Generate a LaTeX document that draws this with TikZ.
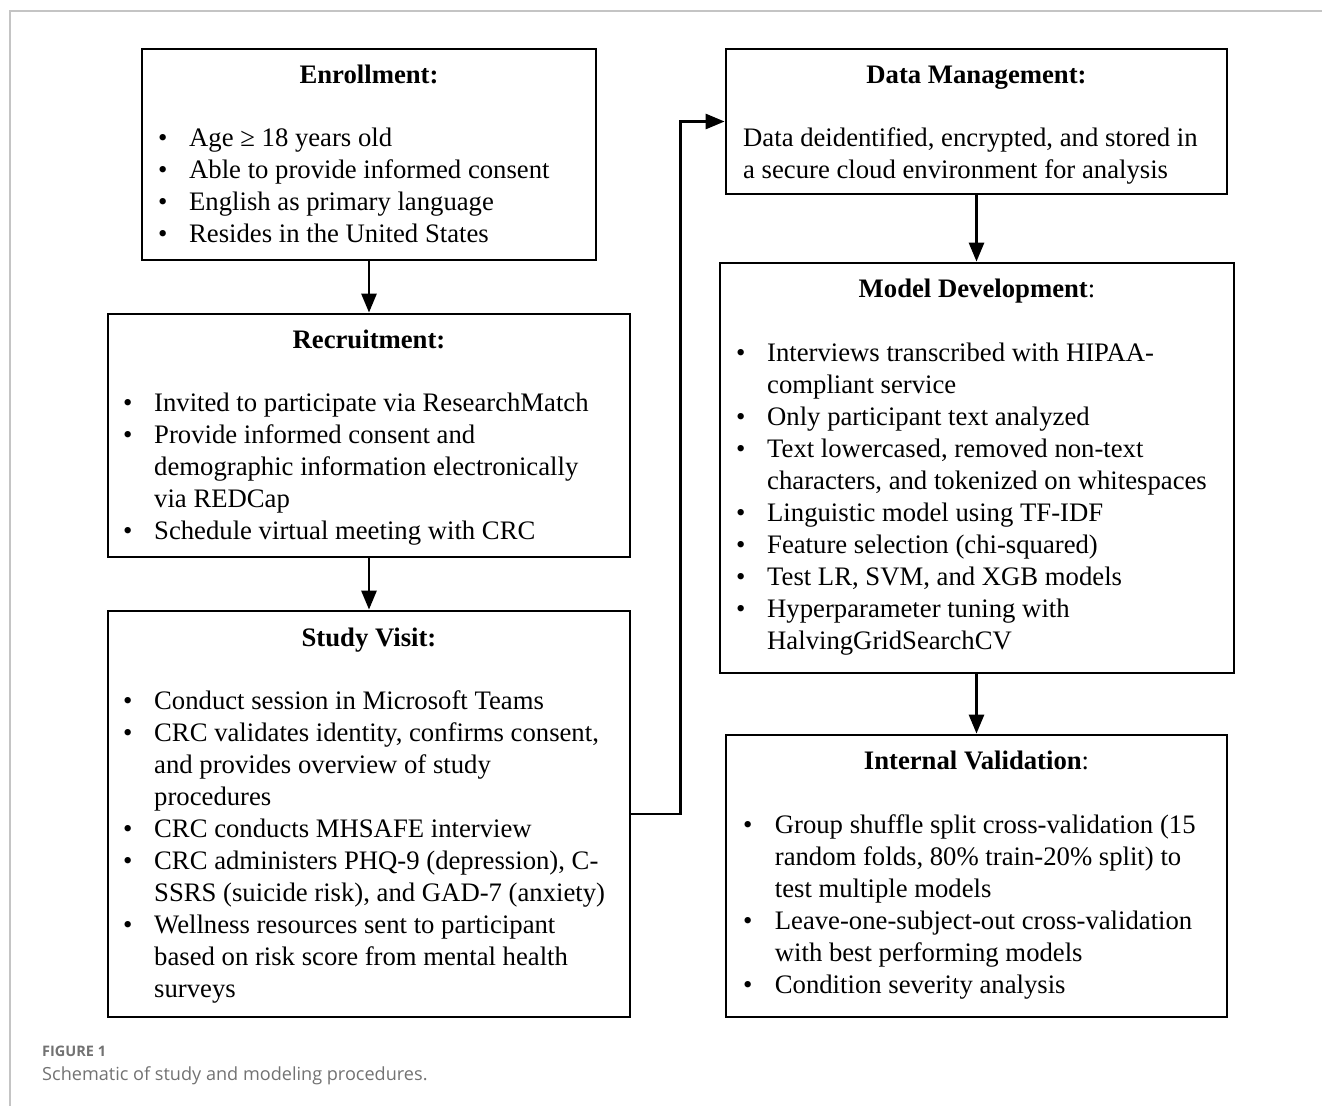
\documentclass[tikz,border=0pt]{standalone}
\usepackage{fontspec}
\setmainfont{Liberation Serif}
\newfontfamily\capfont{Open Sans}
\usetikzlibrary{arrows.meta}
\definecolor{framegray}{HTML}{C4C4C4}
\definecolor{capgray}{HTML}{727272}
\newcommand\bul[1][31pt]{\makebox[#1][l]{\textbullet}}
\newcommand\ind[1][31pt]{\hspace*{#1}}
\begin{document}
\begin{tikzpicture}[x=1pt,y=-1pt,
  boxst/.style={draw, line width=2.8pt, inner sep=0, rectangle},
  ttl/.style={font=\fontsize{26.7}{32.1}\selectfont\bfseries, anchor=base, inner sep=0},
  body/.style={font=\fontsize{26.7}{32.1}\selectfont, anchor=base west, inner sep=0, align=left},
  conn/.style={line width=2.8pt, -{Triangle[length=19pt,width=15pt]}},
  capst/.style={anchor=base west, inner sep=0, text=capgray}]
\useasboundingbox (0,0) rectangle (1322,1106);
\draw[framegray, line width=2pt] (1322,11) -- (10,11) -- (10,1106);

% boxes
\node[boxst, minimum width=454pt, minimum height=211pt] (enr) at (369,154.5) {};
\node[boxst, minimum width=522pt, minimum height=243pt] (rec) at (369,435.5) {};
\node[boxst, minimum width=522pt, minimum height=406pt] (stu) at (369,814) {};
\node[boxst, minimum width=501pt, minimum height=145pt] (dat) at (976.5,121.5) {};
\node[boxst, minimum width=514pt, minimum height=410pt] (mod) at (977,468) {};
\node[boxst, minimum width=501pt, minimum height=282pt] (val) at (976.5,876) {};

% titles
\node[ttl] (enrT) at (369,83) {Enrollment:};
\node[ttl] (recT) at (369,348) {Recruitment:};
\node[ttl] (stuT) at (369,646) {Study Visit:};
\node[ttl] (datT) at (976.5,83) {Data Management:};
\node[ttl] (modT) at (977,297) {Model Development\textmd{:}};
\node[ttl] (valT) at (976.5,769) {Internal Validation\textmd{:}};

% bodies
\node[body] (enrB) at (158,146) {\begin{tabular}[t]{@{}l@{}}
\bul Age ≥ 18 years old\\
\bul Able to provide informed consent\\
\bul English as primary language\\
\bul Resides in the United States
\end{tabular}};
\node[body] (recB) at (123,411) {\begin{tabular}[t]{@{}l@{}}
\bul Invited to participate via ResearchMatch\\
\bul Provide informed consent and\\
\ind demographic information electronically\\
\ind via REDCap\\
\bul Schedule virtual meeting with CRC
\end{tabular}};
\node[body] (stuB) at (123,709) {\begin{tabular}[t]{@{}l@{}}
\bul Conduct session in Microsoft Teams\\
\bul CRC validates identity, confirms consent,\\
\ind and provides overview of study\\
\ind procedures\\
\bul CRC conducts MHSAFE interview\\
\bul CRC administers PHQ-9 (depression), C-\\
\ind SSRS (suicide risk), and GAD-7 (anxiety)\\
\bul Wellness resources sent to participant\\
\ind based on risk score from mental health\\
\ind surveys
\end{tabular}};
\node[body] (datB) at (743,146) {\begin{tabular}[t]{@{}l@{}}
Data deidentified, encrypted, and stored in\\
a secure cloud environment for analysis
\end{tabular}};
\node[body] (modB) at (736,361) {\begin{tabular}[t]{@{}l@{}}
\bul Interviews transcribed with HIPAA-\\
\ind compliant service\\
\bul Only participant text analyzed\\
\bul Text lowercased, removed non-text\\
\ind characters, and tokenized on whitespaces\\
\bul Linguistic model using TF-IDF\\
\bul Feature selection (chi-squared)\\
\bul Test LR, SVM, and XGB models\\
\bul Hyperparameter tuning with\\
\ind HalvingGridSearchCV
\end{tabular}};
\node[body] (valB) at (743,833) {\begin{tabular}[t]{@{}l@{}}
\bul[25pt] Group shuffle split cross-validation (15\\
\ind[25pt] random folds, 80\% train-20\% split) to\\
\ind[25pt] test multiple models\\
\bul[25pt] Leave-one-subject-out cross-validation\\
\ind[25pt] with best performing models\\
\bul[25pt] Condition severity analysis
\end{tabular}};

% connectors
\draw[conn] (enr.south) -- (rec.north);
\draw[conn] (rec.south) -- (stu.north);
\draw[conn] (stu.east) -- ++(49,0) |- (dat.west);
\draw[conn] (dat.south) -- (dat.south |- mod.north);
\draw[conn] (val.north |- mod.south) -- (val.north);

% caption
\node[capst, font=\capfont\fontsize{14.5}{16}\selectfont\bfseries] (fig) at (42,1056) {FIGURE 1};
\node[capst, font=\capfont\fontsize{18.1}{22}\selectfont] (cap) at (42,1080) {Schematic of study and modeling procedures.};
\end{tikzpicture}
\end{document}
